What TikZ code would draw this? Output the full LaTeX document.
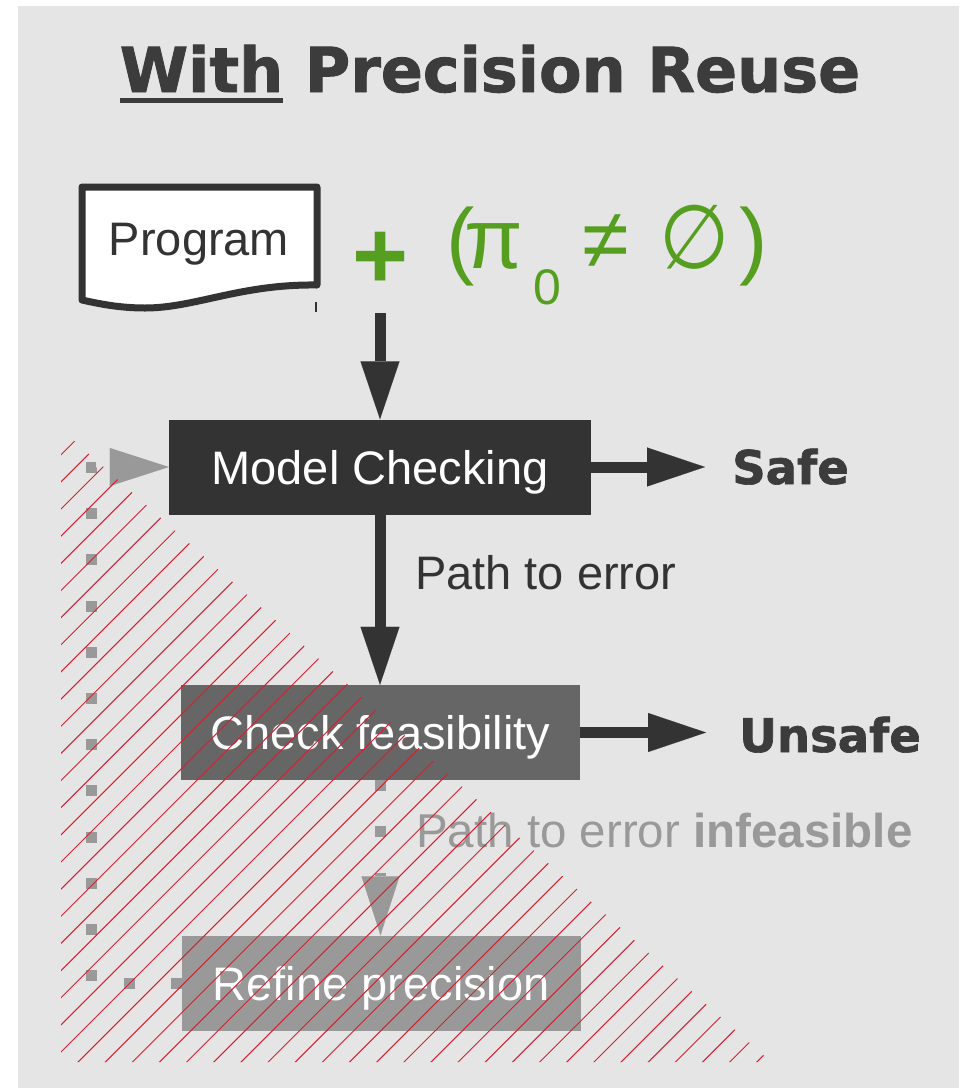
\documentclass[tikz,border=0pt]{standalone}
\usepackage{fontspec}
\setmainfont{Liberation Sans}
\newfontfamily\heavyfont{DejaVu Sans}[BoldFeatures={FakeBold=1.4}]
\newfontfamily\symfont{DejaVu Sans}
\usetikzlibrary{arrows.meta}

\definecolor{bg}{HTML}{E5E5E5}
\definecolor{ink}{HTML}{333333}
\definecolor{midgray}{HTML}{666666}
\definecolor{lightgray}{HTML}{999999}
\definecolor{titlegray}{HTML}{3C3C3C}
\definecolor{leaf}{RGB}{86,158,31}
\definecolor{hatchred}{RGB}{214,32,48}

% underline a word with a thick bar
\newcommand\ulword[1]{\setbox0\hbox{#1}\rlap{\rule[-11pt]{\wd0}{5.5pt}}\box0\relax}

\begin{document}
\begin{tikzpicture}[x=1pt,y=-1pt,
  titletext/.style={inner sep=0pt, text=titlegray, font=\heavyfont\bfseries\fontsize{62}{70}\selectfont},
  stepbox/.style={inner sep=0pt, text=white, font=\fontsize{47}{56}\selectfont,
    text height=34pt, text depth=0pt, minimum height=95pt},
  mcbox/.style={stepbox, fill=ink, minimum width=422pt},
  cfbox/.style={stepbox, fill=midgray, minimum width=399pt},
  rpbox/.style={stepbox, fill=lightgray, minimum width=399pt},
  plaintext/.style={inner sep=0pt, text=ink, font=\fontsize{47}{56}\selectfont},
  fadedtext/.style={inner sep=0pt, text=lightgray, font=\fontsize{47.5}{56}\selectfont},
  verdict/.style={inner sep=0pt, text=titlegray, font=\heavyfont\bfseries\fontsize{46.5}{52}\selectfont},
  greentext/.style={inner sep=0pt, text=leaf},
  docframe/.style={draw=ink, fill=white, line width=7pt, line join=round},
  arr/.style={draw=ink, line width=11pt,
    -{Triangle[length=58pt,width=39pt,line width=0.1pt]}},
  dotarr/.style={draw=lightgray, line width=11pt, dash pattern=on 11pt off 35.2pt,
    -{Triangle[length=59pt,width=38pt,line width=0.1pt]}},
  hatch/.style={draw=hatchred, line width=1pt}
]
\useasboundingbox (0,0) rectangle (961,1088);
\fill[white] (0,0) rectangle (961,1088);
\fill[bg] (18,6) rectangle (959,1088);

% heading
\node[titletext, anchor=base] (title) at (490,92) {\ulword{With} Precision Reuse};

% program document with a wavy lower edge
\draw[docframe] (82,187) -- (317,187) -- (317,285)
  .. controls (240,284) and (195,308) .. (145,308)
  .. controls (120,308) and (100,304) .. (82,300) -- cycle;
\draw[ink, line width=1.5pt] (316,302) -- (316,312);
\node[plaintext, anchor=base] (prog) at (199,255) {Program};

% initial precision
\node[greentext, anchor=base west, font=\bfseries\fontsize{96}{100}\selectfont] (plus) at (352,288) {+};
\node[greentext, anchor=base west, font=\fontsize{85}{90}\selectfont] (cond) at (446,268)
  {(\kern-10pt π\kern10pt\raisebox{-36pt}{\fontsize{50}{50}\selectfont 0}\kern22pt≠\kern30pt{\symfont\scalebox{0.95}[1.05]{∅}}\kern10pt)};

% analysis steps
\node[mcbox] (mc) at (380,467) {Model Checking};
\node[cfbox] (cf) at (380.5,732.5) {Check feasibility};
\node[rpbox] (rp) at (381.3,983) {Refine precision};

% outcomes and edge labels
\node[verdict, anchor=base west] (safe) at (732,484) {Safe};
\node[verdict, anchor=base west] (unsafe) at (739,752) {Unsafe};
\node[plaintext, anchor=base west] (pte) at (415,589) {Path to error};
\node[fadedtext, anchor=base west] (ptei) at (416,847) {Path to error \textbf{infeasible}};

% connectors
\coordinate (in) at (380,313);
\coordinate (loop) at (91,700);
\draw[arr] (in) -- (in |- mc.north);
\draw[arr, shorten >=27pt] (mc.east) -- (mc.east -| safe.west);
\draw[arr] (mc.south) -- (mc.south |- cf.north);
\draw[arr, shorten >=33pt] (cf.east) -- (cf.east -| unsafe.west);
\draw[dotarr] (cf.south) -- (cf.south |- rp.north);
\draw[dotarr] (rp.west) -| (loop) |- (mc.west);

% hatched triangle laid over the lower left
\begin{scope}
  \clip (61,429) -- (61,1062) -- (771,1062) -- cycle;
  \foreach \k in {0,...,48}{
    \pgfmathsetmacro\c{515.7+27.15*\k}
    \draw[hatch] (\c-1100,1100) -- (\c-400,400);
  }
\end{scope}
\end{tikzpicture}
\end{document}
